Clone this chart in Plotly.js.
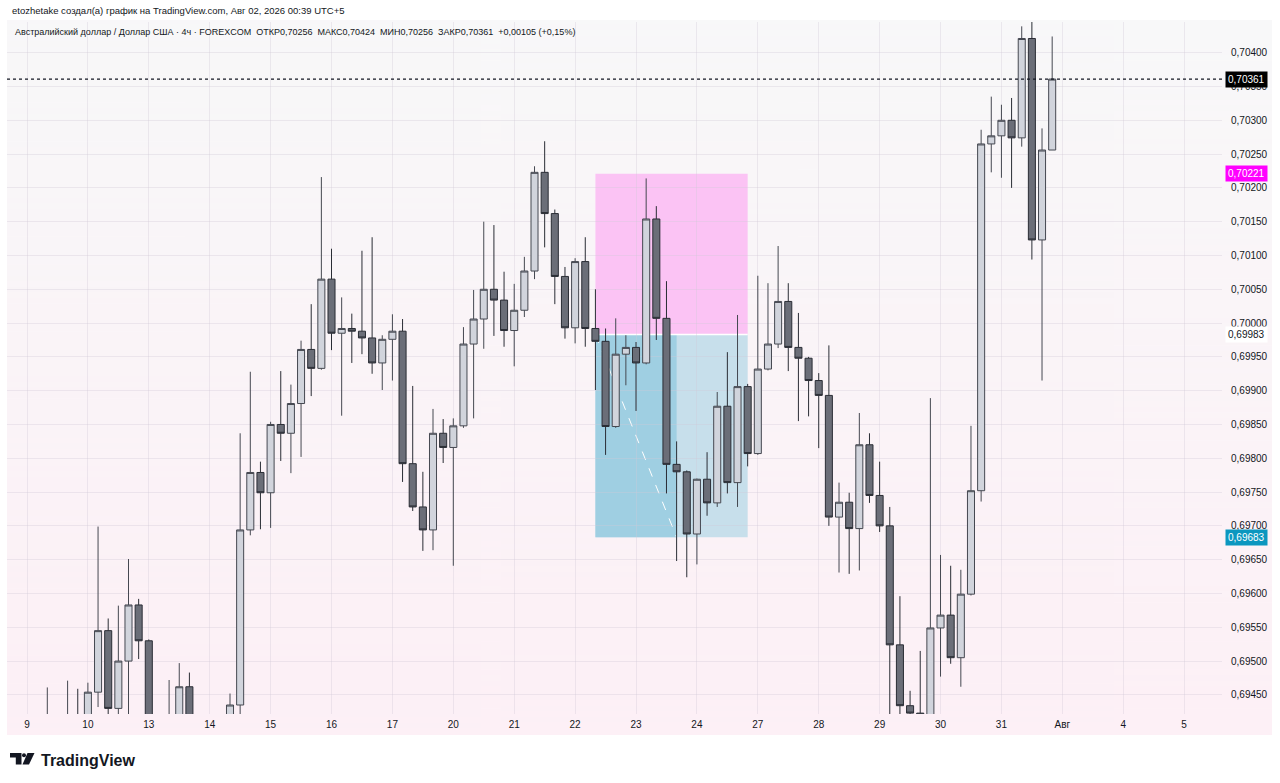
<!DOCTYPE html>
<html><head><meta charset="utf-8">
<script src="https://cdn.plot.ly/plotly-3.0.1.min.js"></script>
<style>html,body{margin:0;padding:0;background:#fff;} #chart{width:1280px;height:783px;}</style>
</head><body><div id="chart"></div>
<script>
// ---- data (4h candles, AUD/USD, FOREXCOM) ----
const dayLabels = ['9','10','13','14','15','16','17','20','21','22','23','24','27','28','29','30','31','Авг','4','5'];
const candlesPerDay = 6;
const openP = [
 0.69405,0.69398,0.69405,0.69412,0.69400,0.69408,0.69402,0.69454,0.69545,0.69430,
 0.69500,0.69583,0.69530,0.69395,0.69405,0.69410,0.69462,0.69405,0.69385,0.69398,
 0.69410,0.69435,0.69694,0.69779,0.69749,0.69850,0.69837,0.69881,0.69961,0.69933,
 0.70065,0.69985,0.69992,0.69988,0.69978,0.69941,0.69976,0.69988,0.69792,0.69728,
 0.69694,0.69837,0.69816,0.69848,0.69969,0.70006,0.70050,0.70034,0.69989,0.70019,
 0.70077,0.70223,0.70162,0.70069,0.69993,0.70091,0.69992,0.69973,0.69847,0.69954,
 0.69964,0.69941,0.70154,0.70007,0.69791,0.69780,0.69688,0.69769,0.69734,0.69877,
 0.69764,0.69906,0.69807,0.69932,0.69969,0.70032,0.69964,0.69948,0.69915,0.69893,
 0.69713,0.69735,0.69696,0.69820,0.69745,0.69700,0.69524,0.69434,0.69423,0.69420,
 0.69549,0.69568,0.69505,0.69599,0.69752,0.70265,0.70277,0.70300,0.70274,0.70421,
 0.70123,0.70256];
const highP = [
 0.69418,0.69412,0.69461,0.69418,0.69471,0.69459,0.69468,0.69699,0.69563,0.69582,
 0.69651,0.69592,0.69532,0.69415,0.69472,0.69497,0.69483,0.69418,0.69410,0.69419,
 0.69452,0.69837,0.69928,0.69795,0.69854,0.69929,0.69909,0.69974,0.70028,0.70216,
 0.70110,0.70038,0.70014,0.70107,0.70127,0.69982,0.70013,0.70006,0.69907,0.69780,
 0.69873,0.69858,0.69859,0.69994,0.70049,0.70150,0.70145,0.70076,0.70058,0.70098,
 0.70232,0.70269,0.70168,0.70083,0.70096,0.70127,0.70050,0.69992,0.70007,0.69982,
 0.69972,0.70214,0.70173,0.70062,0.69825,0.69782,0.69770,0.69809,0.69898,0.69957,
 0.70012,0.69910,0.70070,0.70059,0.70114,0.70059,0.70015,0.69950,0.69926,0.69967,
 0.69764,0.69749,0.69867,0.69837,0.69795,0.69728,0.69596,0.69456,0.69515,0.69889,
 0.69657,0.69641,0.69635,0.69848,0.70286,0.70335,0.70323,0.70333,0.70439,0.70446,
 0.70288,0.70424];
const lowP = [
 0.69385,0.69380,0.69390,0.69395,0.69392,0.69395,0.69398,0.69432,0.69418,0.69418,
 0.69410,0.69503,0.69380,0.69370,0.69390,0.69400,0.69395,0.69375,0.69365,0.69380,
 0.69395,0.69418,0.69686,0.69695,0.69697,0.69796,0.69778,0.69802,0.69892,0.69931,
 0.69960,0.69863,0.69941,0.69954,0.69925,0.69901,0.69915,0.69765,0.69722,0.69663,
 0.69664,0.69793,0.69641,0.69845,0.69859,0.69962,0.69981,0.69965,0.69936,0.70009,
 0.70065,0.70112,0.70028,0.69977,0.69970,0.69965,0.69901,0.69805,0.69845,0.69908,
 0.69870,0.69939,0.69975,0.69748,0.69648,0.69624,0.69643,0.69715,0.69728,0.69748,
 0.69728,0.69788,0.69805,0.69930,0.69963,0.69929,0.69855,0.69862,0.69815,0.69700,
 0.69631,0.69629,0.69634,0.69734,0.69691,0.69400,0.69405,0.69400,0.69395,0.69405,
 0.69477,0.69496,0.69462,0.69597,0.69736,0.70223,0.70215,0.70200,0.70261,0.70094,
 0.69915,0.70256];
const closeP = [
 0.69398,0.69405,0.69412,0.69400,0.69408,0.69402,0.69454,0.69545,0.69430,0.69500,
 0.69583,0.69530,0.69395,0.69405,0.69410,0.69462,0.69405,0.69385,0.69398,0.69410,
 0.69435,0.69694,0.69779,0.69749,0.69850,0.69837,0.69881,0.69961,0.69933,0.70065,
 0.69985,0.69992,0.69988,0.69978,0.69941,0.69976,0.69988,0.69792,0.69728,0.69694,
 0.69837,0.69816,0.69848,0.69969,0.70006,0.70050,0.70034,0.69989,0.70019,0.70077,
 0.70223,0.70162,0.70069,0.69993,0.70091,0.69992,0.69973,0.69847,0.69954,0.69964,
 0.69941,0.70154,0.70007,0.69791,0.69780,0.69688,0.69769,0.69734,0.69877,0.69764,
 0.69906,0.69807,0.69932,0.69969,0.70032,0.69964,0.69948,0.69915,0.69893,0.69713,
 0.69735,0.69696,0.69820,0.69745,0.69700,0.69524,0.69434,0.69423,0.69420,0.69549,
 0.69568,0.69505,0.69599,0.69752,0.70265,0.70277,0.70300,0.70274,0.70421,0.70123,
 0.70256,0.70361];
const priceTicks = [0.6945,0.6950,0.6955,0.6960,0.6965,0.6970,0.6975,0.6980,0.6985,0.6990,
 0.6995,0.7000,0.7005,0.7010,0.7015,0.7020,0.7025,0.7030,0.7035,0.7040];
// short position tool
const posEntry = 0.69983;
const posStop = 0.70221;
const posTarget = 0.69683;
const posStartBar = 56;
const posHitBar = 64;
const posEndBar = 71;
const attribution = 'etozhetake создал(а) график на TradingView.com, Авг 02, 2026 00:39 UTC+5';
const legendText = 'Австралийский доллар / Доллар США · 4ч · FOREXCOM  ОТКР0,70256  МАКС0,70424  МИН0,70256  ЗАКР0,70361  +0,00105 (+0,15%)';

// ---- geometry helpers (page pixels -> paper) ----
const W = 1280, H = 783;
const M = {l: 7, r: 58, t: 22, b: 69};
const PW = W - M.l - M.r, PH = H - M.t - M.b;
const px = v => (v - M.l) / PW;
const py = v => (H - M.b - v) / PH;

const xIdx = closeP.map((_, i) => i);
const tickVals = dayLabels.map((_, i) => i * candlesPerDay);
const fmt = v => v.toFixed(5).replace('.', ',');
const lastClose = closeP[closeP.length - 1];

// gradient background via canvas
const cv = document.createElement('canvas'); cv.width = 4; cv.height = 256;
const ctx = cv.getContext('2d');
const grd = ctx.createLinearGradient(0, 0, 0, 256);
grd.addColorStop(0, '#f8f8f9'); grd.addColorStop(1, '#fdf0f6');
ctx.fillStyle = grd; ctx.fillRect(0, 0, 4, 256);
const bgURL = cv.toDataURL();

const FONT = 'Liberation Sans, Arial, sans-serif';
const GRID = 'rgba(210,200,215,0.35)';

const trace = {
  type: 'candlestick', x: xIdx, open: openP, high: highP, low: lowP, close: closeP,
  increasing: {line: {color: '#454851', width: 1}, fillcolor: '#d1d4dc'},
  decreasing: {line: {color: '#2a2d35', width: 1}, fillcolor: '#6b6e78'},
  whiskerwidth: 0, hoverinfo: 'none', showlegend: false
};

const shapes = [
  {type: 'rect', xref: 'x', yref: 'y', x0: posStartBar, x1: posEndBar, y0: posEntry, y1: posStop,
   fillcolor: '#fbc3f4', line: {width: 0}, layer: 'below'},
  {type: 'rect', xref: 'x', yref: 'y', x0: posStartBar, x1: posEndBar, y0: posTarget, y1: posEntry,
   fillcolor: '#c7dfeb', line: {width: 0}, layer: 'below'},
  {type: 'rect', xref: 'x', yref: 'y', x0: posStartBar, x1: posHitBar, y0: posTarget, y1: posEntry,
   fillcolor: '#9fcfe2', line: {width: 0}, layer: 'below'},
  {type: 'line', xref: 'x', yref: 'y', x0: posStartBar, x1: posEndBar, y0: posEntry, y1: posEntry,
   line: {color: '#ffffff', width: 1.5}, layer: 'below'},
  {type: 'line', xref: 'x', yref: 'y', x0: posStartBar, x1: posHitBar, y0: posEntry, y1: posTarget,
   line: {color: '#ffffff', width: 1, dash: 'dash'}, layer: 'below'},
  {type: 'line', xref: 'paper', yref: 'y', x0: 0, x1: 1, y0: lastClose, y1: lastClose,
   line: {color: '#131722', width: 1.2, dash: 'dot'}},
  // TradingView logo glyph
  {type: 'path', xref: 'paper', yref: 'paper', fillcolor: '#131722', line: {width: 0},
   path: `M ${px(10)} ${py(753)} L ${px(21.5)} ${py(753)} L ${px(21.5)} ${py(764.5)} L ${px(15.8)} ${py(764.5)} L ${px(15.8)} ${py(757.6)} L ${px(10)} ${py(757.6)} Z`},
  {type: 'circle', xref: 'paper', yref: 'paper', fillcolor: '#131722', line: {width: 0},
   x0: px(22), x1: px(26), y0: py(757.2), y1: py(753.2)},
  {type: 'path', xref: 'paper', yref: 'paper', fillcolor: '#131722', line: {width: 0},
   path: `M ${px(27.5)} ${py(753)} L ${px(34.5)} ${py(753)} L ${px(29)} ${py(764.5)} L ${px(22.5)} ${py(764.5)} Z`}
];

function tag(val, bg, fg) {
  return {xref: 'paper', yref: 'y', x: 1, y: val, xanchor: 'left', yanchor: 'middle', xshift: 3,
    text: fmt(val), showarrow: false, bgcolor: bg, borderpad: 2,
    font: {family: FONT, size: 10, color: fg}};
}

const annotations = [
  {xref: 'paper', yref: 'paper', x: px(10), y: py(10), xanchor: 'left', yanchor: 'middle',
   text: attribution, showarrow: false, font: {family: FONT, size: 9.5, color: '#131722'}},
  {xref: 'paper', yref: 'paper', x: px(13), y: py(32), xanchor: 'left', yanchor: 'middle',
   text: legendText, showarrow: false, font: {family: FONT, size: 9, color: '#131722'}},
  tag(lastClose, '#000000', '#ffffff'),
  tag(posStop, '#ff00ff', '#ffffff'),
  tag(posEntry, '#ffffff', '#131722'),
  tag(posTarget, '#0c97bf', '#ffffff'),
  {xref: 'paper', yref: 'paper', x: px(39), y: py(760), xanchor: 'left', yanchor: 'middle',
   text: '<b>TradingView</b>', showarrow: false, font: {family: FONT, size: 16, color: '#131722'}}
];

const layout = {
  width: W, height: H, margin: M,
  paper_bgcolor: '#ffffff', plot_bgcolor: 'rgba(0,0,0,0)',
  separators: ', ',
  boxgap: 0.1, boxgroupgap: 0.23,
  font: {family: FONT, color: '#131722'},
  xaxis: {range: [-1.97, 117.73], tickvals: tickVals, ticktext: dayLabels,
    showgrid: true, gridcolor: GRID, gridwidth: 1, zeroline: false,
    ticks: '', ticklabelstandoff: 3, tickfont: {family: FONT, size: 10, color: '#131722'},
    rangeslider: {visible: false}, showline: false, fixedrange: true},
  yaxis: {side: 'right', range: [0.694217, 0.704454], tickvals: priceTicks, tickformat: '.5f',
    showgrid: true, gridcolor: GRID, gridwidth: 1, zeroline: false,
    ticks: '', ticklabelstandoff: 8, tickfont: {family: FONT, size: 10, color: '#131722'},
    showline: false, fixedrange: true},
  shapes: shapes,
  annotations: annotations,
  images: [{source: bgURL, xref: 'paper', yref: 'paper', x: px(7), y: py(20),
    sizex: (1272 - 7) / PW, sizey: (735 - 20) / PH, sizing: 'stretch',
    xanchor: 'left', yanchor: 'top', layer: 'below'}]
};

Plotly.newPlot('chart', [trace], layout, {staticPlot: true, displayModeBar: false});
</script>
</body></html>
